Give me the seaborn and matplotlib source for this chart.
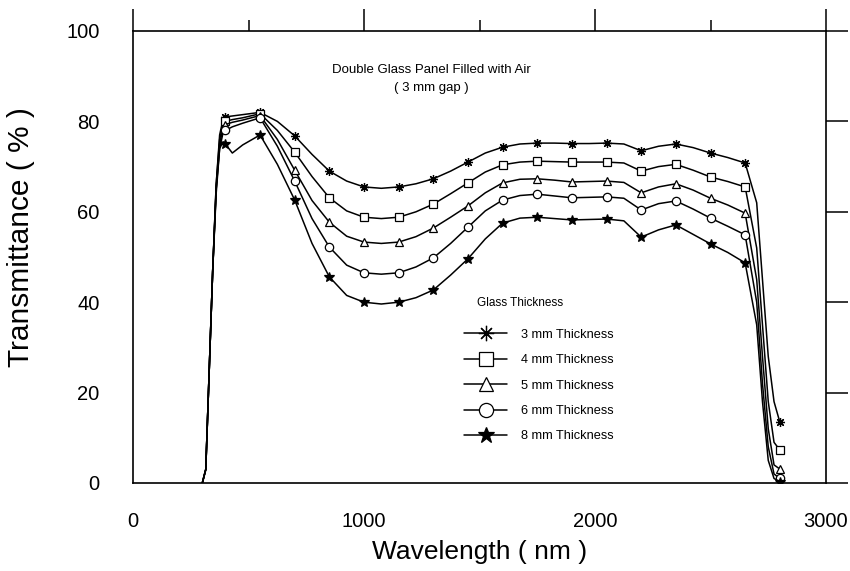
import numpy as np
import pandas as pd
import matplotlib
matplotlib.use("Agg")
import matplotlib.pyplot as plt
import seaborn as sns

# ---------------- data ----------------
wavelength = [300, 315, 330, 345, 360, 375, 390, 400, 430, 475, 550, 625, 700, 775,
              850, 925, 1000, 1075, 1150, 1225, 1300, 1375, 1450, 1525, 1600, 1675,
              1750, 1825, 1900, 1975, 2050, 2125, 2200, 2275, 2350, 2425, 2500, 2575,
              2650, 2700, 2725, 2750, 2775, 2800]

t_3mm = [0, 3, 25, 47, 66, 77, 80.5, 81.0, 81.2, 81.5, 82.0, 80.0, 76.8, 72.7,
         69.0, 66.8, 65.5, 65.2, 65.5, 66.2, 67.3, 69.0, 71.0, 73.0, 74.3, 75.0,
         75.2, 75.2, 75.1, 75.1, 75.2, 75.0, 73.5, 74.5, 75.0, 74.2, 73.0, 72.0,
         70.8, 62.0, 45.0, 28.0, 18.0, 13.5]
t_4mm = [0, 3, 25, 47, 66, 76, 79.5, 80.0, 80.4, 80.8, 81.7, 78.0, 73.2, 67.8,
         63.1, 60.2, 58.8, 58.5, 58.8, 60.0, 61.7, 64.0, 66.4, 68.8, 70.4, 71.0,
         71.2, 71.1, 71.0, 71.0, 71.0, 70.8, 69.0, 70.0, 70.5, 69.2, 67.7, 66.7,
         65.5, 52.0, 35.0, 18.0, 9.0, 7.3]
t_5mm = [0, 3, 25, 47, 65, 75, 78.5, 79.3, 79.8, 80.3, 81.3, 76.0, 69.2, 62.5,
         57.7, 54.6, 53.3, 53.0, 53.3, 54.5, 56.4, 58.8, 61.3, 64.2, 66.4, 67.2,
         67.3, 67.0, 66.6, 66.7, 66.8, 66.5, 64.2, 65.5, 66.2, 64.8, 63.0, 61.5,
         59.7, 45.0, 28.0, 12.0, 4.0, 3.1]
t_6mm = [0, 3, 25, 47, 65, 74, 77.5, 78.0, 78.8, 79.6, 80.8, 74.5, 66.8, 58.5,
         52.2, 48.2, 46.5, 46.2, 46.5, 47.8, 49.8, 53.0, 56.6, 60.2, 62.6, 63.6,
         63.9, 63.5, 63.1, 63.2, 63.3, 63.0, 60.4, 61.8, 62.4, 60.6, 58.6, 56.8,
         54.9, 40.0, 22.0, 8.0, 2.0, 1.0]
t_8mm = [0, 3, 25, 47, 64, 74, 75.5, 75.0, 73.0, 74.8, 77.0, 70.5, 62.6, 53.0,
         45.6, 41.5, 40.0, 39.6, 40.0, 41.0, 42.7, 46.0, 49.6, 54.0, 57.5, 58.6,
         58.8, 58.5, 58.2, 58.3, 58.4, 58.0, 54.4, 56.0, 57.1, 55.0, 52.9, 51.0,
         48.7, 35.0, 18.0, 5.0, 1.0, 0.3]

series_labels = ["3 mm Thickness", "4 mm Thickness", "5 mm Thickness",
                 "6 mm Thickness", "8 mm Thickness"]
series_values = [t_3mm, t_4mm, t_5mm, t_6mm, t_8mm]
marker_wavelengths = list(range(400, 2801, 150))

x_ticks = [0, 1000, 2000, 3000]
y_ticks = [0, 20, 40, 60, 80, 100]
title_lines = ["Double Glass Panel Filled with Air", "( 3 mm gap )"]
x_label = "Wavelength ( nm )"
y_label = "Transmittance ( % )"
legend_title = "Glass Thickness"

# ---------------- style ----------------
sns.set_theme(style="white")
plt.rcParams["font.family"] = ["Liberation Sans", "DejaVu Sans"]
plt.rcParams.update({"text.color": "black", "axes.labelcolor": "black",
                     "xtick.color": "black", "ytick.color": "black"})

fig = plt.figure(figsize=(8.5, 5.71), dpi=100)
ax = fig.add_axes([133 / 850, 1 - 483 / 571, (826 - 133) / 850, (483 - 31) / 571])

markers = [(8, 2, 0), "s", "^", "o", "*"]
faces = ["black", "white", "white", "white", "black"]
sizes = [6.5, 6, 6, 6, 7]

mark_idx = [i for i, w in enumerate(wavelength) if w in marker_wavelengths]

for lab, vals, m, fc, ms in zip(series_labels, series_values, markers, faces, sizes):
    df = pd.DataFrame({"wl": wavelength, "T": vals})
    sns.lineplot(data=df, x="wl", y="T", ax=ax, color="black", linewidth=1.1,
                 marker=m, markersize=ms, markerfacecolor=fc,
                 markeredgecolor="black", markeredgewidth=0.9,
                 markevery=mark_idx, label=lab, sort=False)

ax.set_xlim(0, 3000)
ax.set_ylim(0, 100)
ax.set_xticks(x_ticks)
ax.set_xticks([500, 1500, 2500], minor=True)
ax.set_yticks(y_ticks)
ax.tick_params(which="both", direction="out", top=True, right=True,
               labeltop=False, labelright=False, color="black", width=1.1)
ax.tick_params(which="major", length=16, labelsize=14.5)
ax.tick_params(which="minor", length=8)
ax.tick_params(axis="y", which="major", pad=8)
ax.tick_params(axis="x", which="major", pad=5)
for s in ax.spines.values():
    s.set_color("black")
    s.set_linewidth(1.2)

ax.set_xlabel(x_label, fontsize=19, labelpad=6)
ax.set_ylabel(y_label, fontsize=21.5)
ax.yaxis.set_label_coords(-0.142, 0.544)

ax.text(1290, 91.4, title_lines[0], ha="center", va="center", fontsize=9.5)
ax.text(1290, 87.4, title_lines[1], ha="center", va="center", fontsize=9.5)

ax.text(1677, 39.8, legend_title, ha="center", va="center", fontsize=8.5)
leg = ax.legend(loc="upper left", bbox_to_anchor=(0.465, 0.361),
                frameon=False, fontsize=9.2, markerscale=1.7,
                handlelength=3.36, handletextpad=1.05, labelspacing=1.05,
                borderpad=0.2)

fig.savefig("out.png", dpi=100)
